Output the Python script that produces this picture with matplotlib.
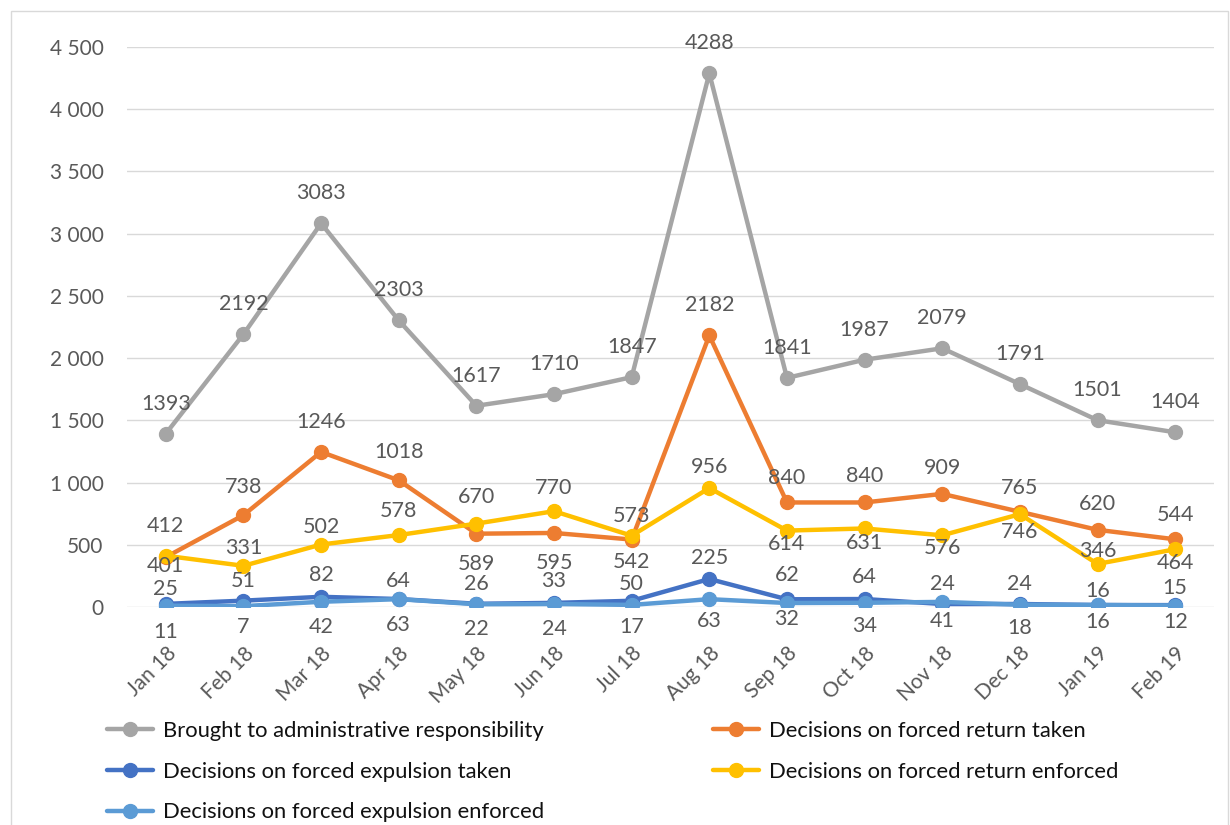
import matplotlib
matplotlib.use('Agg')
import matplotlib.pyplot as plt
from matplotlib.patches import Rectangle

plt.rcParams['font.family'] = ['Lato', 'DejaVu Sans']

months = ['Jan 18', 'Feb 18', 'Mar 18', 'Apr 18', 'May 18', 'Jun 18', 'Jul 18',
          'Aug 18', 'Sep 18', 'Oct 18', 'Nov 18', 'Dec 18', 'Jan 19', 'Feb 19']

admin_resp = [1393, 2192, 3083, 2303, 1617, 1710, 1847, 4288, 1841, 1987, 2079, 1791, 1501, 1404]
return_taken = [401, 738, 1246, 1018, 589, 595, 542, 2182, 840, 840, 909, 765, 620, 544]
expulsion_taken = [25, 51, 82, 64, 26, 33, 50, 225, 62, 64, 24, 24, 16, 15]
return_enforced = [412, 331, 502, 578, 670, 770, 573, 956, 614, 631, 576, 746, 346, 464]
expulsion_enforced = [11, 7, 42, 63, 22, 24, 17, 63, 32, 34, 41, 18, 16, 12]

yticks = [0, 500, 1000, 1500, 2000, 2500, 3000, 3500, 4000, 4500]

# label offsets in pixels (positive = above the point)
off_gray = [30] * 14
off_orange = [-9, 28, 30, 28, -30, -30, -22, 30, 24, 26, 26, 24, 26, 24]
off_yellow = [30, 18, 18, 24, 27, 23, 20, 21, -13, -15, -13, -18, 13, -14]
off_dblue = [15, 20, 22, 18, 20, 22, 17, 21, 24, 22, 20, 20, 14, 17]
off_lblue = [-26, -21, -25, -26, -25, -25, -22, -22, -16, -23, -19, -23, -17, -16]

x = list(range(len(months)))

fig = plt.figure(figsize=(12.3, 8.25), dpi=100)
ax = fig.add_axes([127 / 1230, 1 - 607 / 825, (1214 - 127) / 1230, (607 - 47) / 825])

series = [
    ('Brought to administrative responsibility', admin_resp, '#A5A5A5', off_gray),
    ('Decisions on forced return taken', return_taken, '#ED7D31', off_orange),
    ('Decisions on forced expulsion taken', expulsion_taken, '#4472C4', off_dblue),
    ('Decisions on forced return enforced', return_enforced, '#FFC000', off_yellow),
    ('Decisions on forced expulsion enforced', expulsion_enforced, '#5B9BD5', off_lblue),
]

handles = {}
for i, (name, vals, col, offs) in enumerate(series):
    ln, = ax.plot(x, vals, color=col, lw=3.2, marker='o', markersize=10,
                  label=name, zorder=3 + i, solid_capstyle='round')
    handles[name] = ln
    for a, b, o in zip(x, vals, offs):
        ax.annotate('%d' % b, (a, b), xytext=(0, o * 0.72), textcoords='offset points',
                    ha='center', va='center', fontsize=15.5, color='#595959', zorder=20)

ax.set_xlim(-0.5, len(months) - 0.5)
ax.set_ylim(0, 4500)
ax.set_yticks(yticks)
ax.set_yticklabels(['{:,}'.format(v).replace(',', ' ') for v in yticks])
ax.set_xticks(x)
ax.set_xticklabels(months, rotation=45, ha='right', rotation_mode='anchor')
ax.tick_params(axis='both', length=0, labelsize=15, labelcolor='#595959')
ax.tick_params(axis='y', pad=17)
ax.tick_params(axis='x', pad=26)
ax.grid(axis='y', color='#D9D9D9', lw=1)
ax.set_axisbelow(True)
for s in ax.spines.values():
    s.set_visible(False)

# chart border
fig.patches.append(Rectangle((11 / 1230, -0.05), 1217 / 1230, 1.05 - 11 / 825,
                             transform=fig.transFigure, fill=False,
                             edgecolor='#D9D9D9', lw=1))

order = ['Brought to administrative responsibility', 'Decisions on forced expulsion taken',
         'Decisions on forced expulsion enforced', 'Decisions on forced return taken',
         'Decisions on forced return enforced']
leg = fig.legend([handles[n] for n in order], order, loc='upper left', ncol=2,
                 bbox_to_anchor=(98 / 1230, 1 - 712 / 825), frameon=False,
                 fontsize=15.8, handlelength=2.1, handletextpad=0.45,
                 labelspacing=0.95, columnspacing=7.7, borderaxespad=0)
for t in leg.get_texts():
    t.set_color('#111111')

fig.savefig('out.png', dpi=100)
